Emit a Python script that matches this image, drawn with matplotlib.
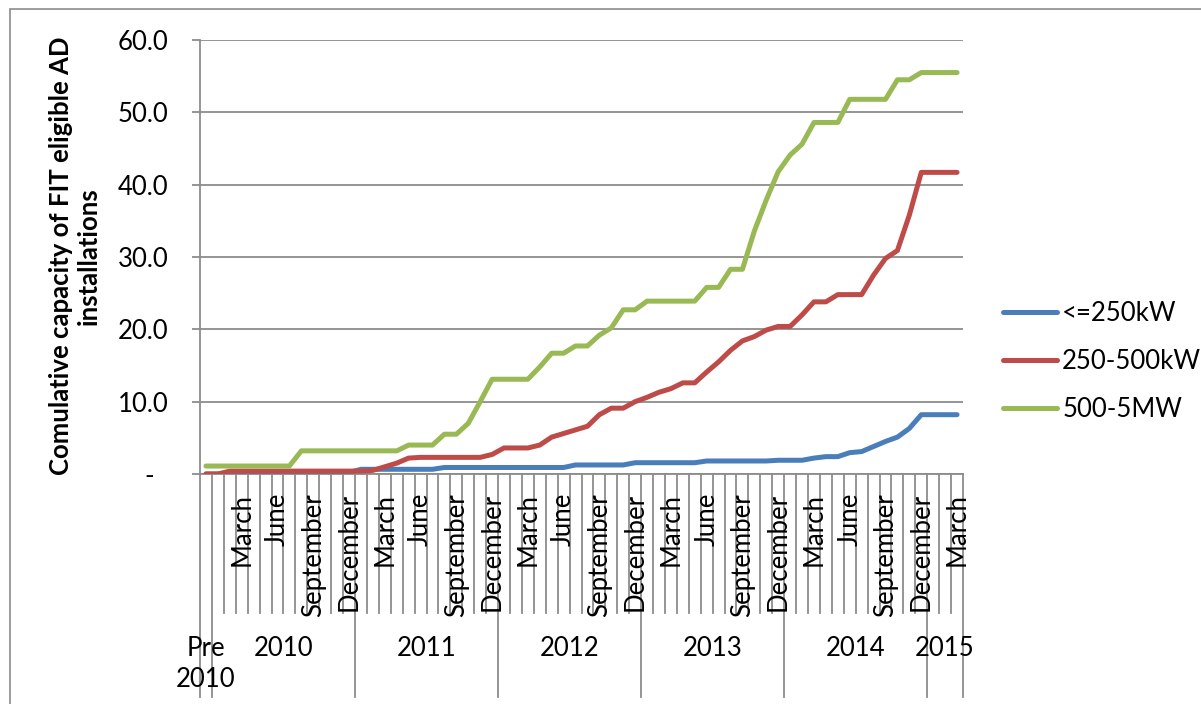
import numpy as np
import matplotlib
matplotlib.use("Agg")
import matplotlib.pyplot as plt
from matplotlib.patches import Rectangle

plt.rcParams['font.family'] = ['Lato', 'DejaVu Sans']

# Category structure: one "Pre 2010" bucket followed by monthly buckets
years = ["Pre\n2010", "2010", "2011", "2012", "2013", "2014", "2015"]
year_lengths = [1, 12, 12, 12, 12, 12, 3]
month_names = ["January", "February", "March", "April", "May", "June",
               "July", "August", "September", "October", "November", "December"]
month_labels = [""] + month_names * 5 + month_names[:3]

series_names = ["<=250kW", "250-500kW", "500-5MW"]

small = ([0.0] * 2 + [0.2] * 11 + [0.65] * 7 + [0.9] * 11 + [1.25] * 5 +
         [1.56] * 6 + [1.8] * 6 + [1.9] * 3 + [2.2] + [2.4] * 2 + [2.95, 3.1] +
         [3.8, 4.5, 5.1, 6.3] + [8.2] * 4)

medium = ([0.0] * 2 + [0.4] * 12 + [0.5, 1.0, 1.5, 2.2] + [2.3] * 6 + [2.7] +
          [3.6] * 3 + [4.0, 5.1, 5.6, 6.1, 6.6, 8.2] + [9.1] * 2 +
          [10.0, 10.6, 11.3, 11.8] + [12.6] * 2 +
          [14.1, 15.5, 17.1, 18.4, 19.0, 19.9] + [20.4] * 2 + [22.0] +
          [23.8] * 2 + [24.8] * 3 + [27.5, 29.8, 30.9, 35.8] + [41.7] * 4)

large = ([1.1] * 8 + [3.2] * 9 + [4.0] * 3 + [5.5] * 2 + [7.0, 10.0] +
         [13.1] * 4 + [14.8] + [16.7] * 2 + [17.7] * 2 + [19.2, 20.2] +
         [22.7] * 2 + [23.9] * 5 + [25.8] * 2 + [28.3] * 2 +
         [33.6, 37.9, 41.8, 44.1, 45.6] + [48.6] * 3 + [51.8] * 4 +
         [54.5] * 2 + [55.5] * 4)

colors = ["#4A7EBB", "#BE4B48", "#98B954"]
grid_color = "#8C8C8C"
fs = 18.5

W, H = 1201, 704
fig = plt.figure(figsize=(W / 100, H / 100), dpi=100)
fig.patch.set_facecolor("white")

# Outer chart-area frame
fig.patches.append(Rectangle((9.5 / W, -0.1), 1.2, 1.1 - 9.5 / H,
                             transform=fig.transFigure, fill=False,
                             edgecolor=grid_color, lw=1.2, zorder=0))

ax = fig.add_axes([200 / W, 1 - 474 / H, 763 / W, 434 / H])
n = len(month_labels)
x = np.arange(n) + 0.5
for vals, name, c in zip([small, medium, large], series_names, colors):
    ax.plot(x, vals, color=c, lw=3.6, label=name,
            solid_capstyle="round", solid_joinstyle="round", zorder=3)

ax.set_xlim(0, n)
ax.set_ylim(0, 60)
yt = np.arange(0, 61, 10)
ax.set_yticks(yt)
ax.set_yticklabels(["-  "] + [f"{v:.1f}" for v in yt[1:]])
ax.yaxis.grid(True, color=grid_color, lw=1.3)
ax.set_axisbelow(True)
ax.tick_params(axis="y", length=5.8, width=1.3, color=grid_color,
               labelsize=fs, pad=17)
ax.tick_params(axis="x", bottom=False, labelbottom=False)
for s in ["top", "right"]:
    ax.spines[s].set_visible(False)
for s in ["left", "bottom"]:
    ax.spines[s].set_color(grid_color)
    ax.spines[s].set_linewidth(1.3)

# Two-level category axis: month dividers and year dividers
tr = ax.get_xaxis_transform()
boundaries = np.concatenate([[0], np.cumsum(year_lengths)])
for b in range(n + 1):
    depth = -0.514 if b in boundaries else -0.32
    ax.plot([b, b], [0, depth], transform=tr, clip_on=False,
            color=grid_color, lw=1.3)

for i, m in enumerate(month_labels):
    if i % 3 == 0 and m:
        ax.text(i + 0.5, -0.044, m, transform=tr, rotation=90,
                ha="center", va="top", fontsize=fs)

for k, yr in enumerate(years):
    cx = (boundaries[k] + boundaries[k + 1]) / 2
    if "\n" in yr:
        ax.text(cx, -0.438, yr, transform=tr, ha="center", va="center",
                fontsize=fs, linespacing=1.3, multialignment="center")
    else:
        ax.text(cx, -0.401, yr, transform=tr, ha="center", va="center",
                fontsize=fs)

fig.text(75 / W, 1 - 256 / H,
         "Comulative capacity of FIT eligible AD\ninstallations",
         rotation=90, ha="center", va="center", fontsize=fs,
         fontweight="bold", multialignment="center", linespacing=1.15)

ax.legend(loc="upper left", bbox_to_anchor=(1003 / W, 1 - 301 / H),
          bbox_transform=fig.transFigure, frameon=False, fontsize=fs,
          handlelength=2.1, handletextpad=0.2, labelspacing=0.9,
          borderpad=0, borderaxespad=0)

fig.savefig("out.png", dpi=100, facecolor="white")
